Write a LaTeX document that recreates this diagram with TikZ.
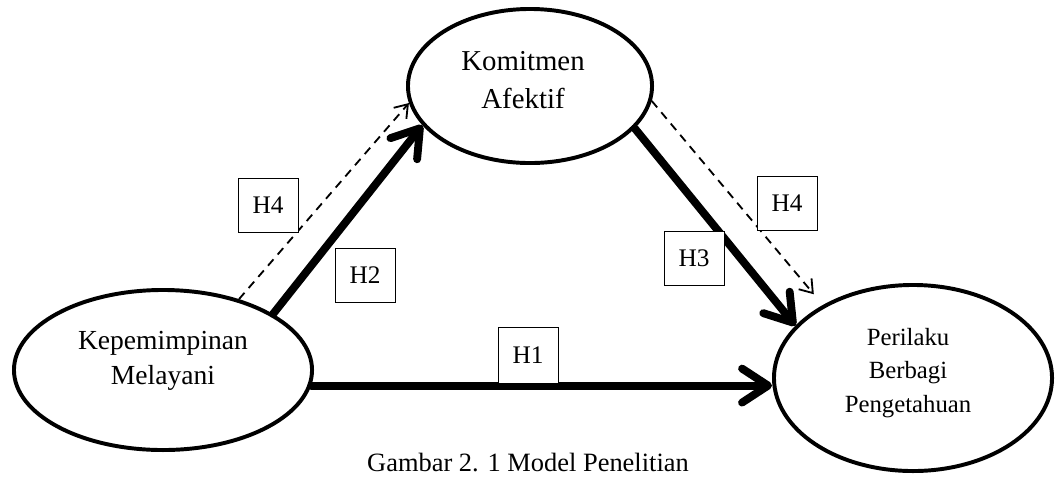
\documentclass[tikz,border=0pt]{standalone}
\usepackage{fontspec}
\setmainfont{Liberation Serif}
\usetikzlibrary{shapes.geometric,arrows.meta}

\begin{document}
\begin{tikzpicture}[
  x=0.025cm, y=-0.025cm,
  var/.style={ellipse, draw, line width=2.8pt, inner sep=0pt},
  hyp/.style={draw, line width=0.6pt, fill=white, minimum width=1.5cm, minimum height=1.35cm, inner sep=0pt, font=\fontsize{18}{20}\selectfont},
  direct/.style={line width=5.6pt, line cap=round, -{Straight Barb[length=0.65cm, width=0.85cm, round]}},
  indirect/.style={line width=1.3pt, dash pattern=on 6pt off 4.5pt, -{Straight Barb[length=0.3cm, width=0.42cm]}}
]
\clip (0,0) rectangle (1057,476);

% Variables
\node[var, minimum width=6.1cm, minimum height=3.85cm] (ka) at (530, 86) {};
\node[var, minimum width=7.45cm, minimum height=4cm] (kp) at (163, 370) {};
\node[var, minimum width=6.95cm, minimum height=4.65cm] (pb) at (913, 378) {};
\node[align=center, font=\fontsize{20.5}{27}\selectfont] (kaT) at (523, 80) {Komitmen\\Afektif};
\node[align=center, font=\fontsize{19.6}{25}\selectfont] (kpT) at (163, 361) {Kepemimpinan\\Melayani};
\node[align=center, font=\fontsize{17.6}{23.8}\selectfont] (pbT) at (908, 373) {Perilaku\\Berbagi\\Pengetahuan};

% Paths
\draw[direct] (kp.-6) -- (kp.-6 -| pb.west);
\draw[direct] (kp.27) -- (ka.200);
\draw[direct] (ka.338) -- (pb.156);
\draw[indirect] (kp.43.5) -- (ka.188);
\draw[indirect, shorten >=0.35cm] (ka.353.5) -- (pb.141);

% Hypotheses
\node[hyp] (h4a) at (268, 205) {H4};
\node[hyp] (h2) at (365, 275) {H2};
\node[hyp] (h3) at (694, 258) {H3};
\node[hyp] (h4b) at (787, 203) {H4};
\node[hyp, minimum height=1.4cm] (h1) at (528, 355) {H1};

% Caption
\node[anchor=base, inner sep=0pt, font=\fontsize{18.8}{22}\selectfont] (cap) at (528, 471) {Gambar 2. 1 Model Penelitian};
\end{tikzpicture}
\end{document}
